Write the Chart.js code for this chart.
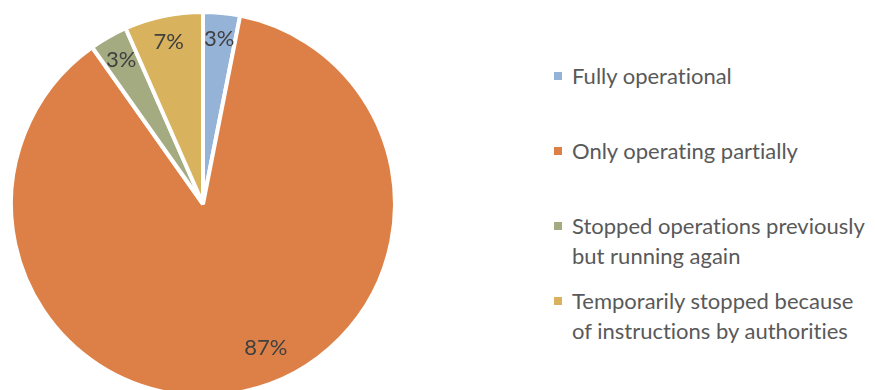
<!DOCTYPE html>
<html>
<head>
<meta charset="utf-8">
<script src="https://cdn.jsdelivr.net/npm/chart.js@4.4.1/dist/chart.umd.min.js"></script>
<style>
  html, body { margin: 0; padding: 0; background: #fff; overflow: hidden; }
  #wrap { position: relative; width: 875px; height: 390px; overflow: hidden; }
  #box { position: absolute; left: 0; top: 0; width: 406px; height: 408px; }
  #legend { position: absolute; left: 554px; top: 61px; font-family: Lato, "Open Sans", sans-serif; font-size: 22px; color: #595959; font-variant-ligatures: none; font-feature-settings: "liga" 0, "clig" 0; }
  .item { display: flex; align-items: flex-start; height: 75px; }
  .sw { width: 8px; height: 8px; margin-top: 11px; margin-right: 10px; flex: none; }
  .txt { line-height: 30px; }
</style>
</head>
<body>
<div id="wrap">
  <div id="box"><canvas id="myChart"></canvas></div>
  <div id="legend"></div>
</div>
<script>
// slices, clockwise from 12 o'clock
var labels = [
  ["Fully operational"],
  ["Only operating partially"],
  ["Stopped operations previously", "but running again"],
  ["Temporarily stopped because", "of instructions by authorities"]
];
var shares = [3.1, 87.1, 3.2, 6.6];
var pctLabels = ["3%", "87%", "3%", "7%"];
var colors = ["#95B3D7", "#DD8047", "#A5AB81", "#D8B25C"];

// label placement tweak (Excel best fit moves the big one a bit)
var labelShift = [0, -11.5, 0, 0];
var labelRadius = [0.865, 0.82, 0.865, 0.865];

var pctPlugin = {
  id: 'pct',
  afterDatasetsDraw: function(chart) {
    var c = chart.ctx;
    var meta = chart.getDatasetMeta(0);
    c.save();
    c.font = '22px Lato, "Open Sans", sans-serif';
    c.fillStyle = '#404040';
    c.textAlign = 'center';
    c.textBaseline = 'middle';
    meta.data.forEach(function(arc, i) {
      var mid = (arc.startAngle + arc.endAngle) / 2 + labelShift[i] * Math.PI / 180;
      var r = arc.outerRadius * labelRadius[i];
      c.fillText(pctLabels[i], arc.x + Math.cos(mid) * r, arc.y + Math.sin(mid) * r);
    });
    c.restore();
  }
};

var ctx = document.getElementById("myChart");
var myChart = new Chart(ctx, {
  type: 'pie',
  data: {
    labels: labels.map(function(l) { return l.join(' '); }),
    datasets: [{
      data: shares,
      backgroundColor: colors,
      borderColor: '#ffffff',
      borderWidth: 4
    }]
  },
  options: {
    responsive: true,
    maintainAspectRatio: false,
    animation: false,
    layout: { padding: 9 },
    plugins: {
      legend: { display: false },
      tooltip: { enabled: false }
    }
  },
  plugins: [pctPlugin]
});

// legend on the right
var leg = document.getElementById("legend");
labels.forEach(function(l, i) {
  var item = document.createElement("div");
  item.className = "item";
  var sw = document.createElement("div");
  sw.className = "sw";
  sw.style.background = colors[i];
  var t = document.createElement("div");
  t.className = "txt";
  t.innerHTML = l.join("<br>");
  item.appendChild(sw);
  item.appendChild(t);
  leg.appendChild(item);
});
</script>
</body>
</html>
